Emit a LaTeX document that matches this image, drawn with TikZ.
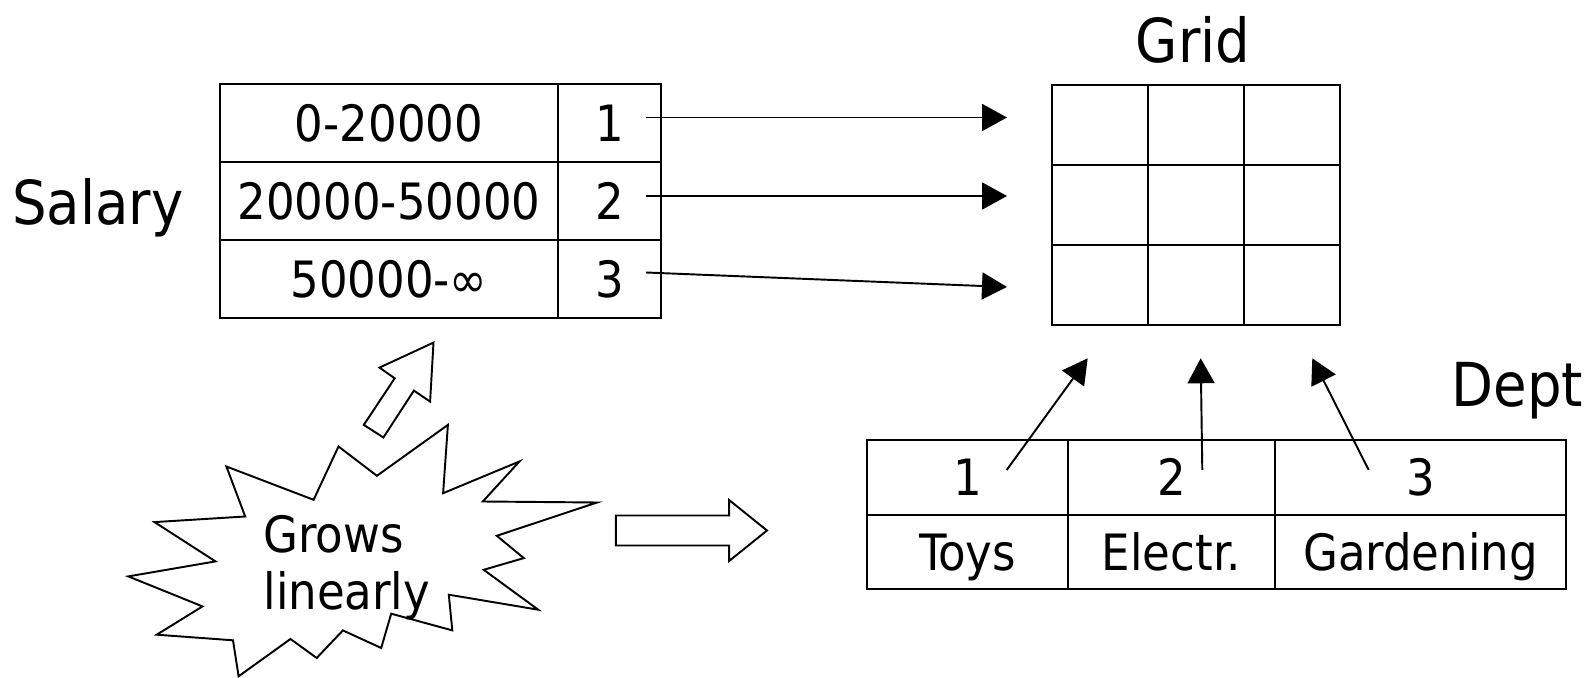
\documentclass[tikz,border=0pt]{standalone}
\usepackage{fontspec}
\setmainfont{DejaVu Sans Condensed}
\usetikzlibrary{arrows.meta}
\begin{document}
\begin{tikzpicture}[x=0.02cm, y=-0.02cm,
  every node/.style={inner sep=0pt, outer sep=0pt},
  lbl/.style={font=\fontsize{34.5}{41}\selectfont},
  txt/.style={font=\fontsize{28.5}{34}\selectfont},
  cell/.style={draw, line width=1.1pt, txt, text height=0.73cm, text depth=0pt, anchor=center},
  conn/.style={line width=1.1pt, -{Triangle[length=0.5cm, width=0.54cm]}},
  hollow/.style={draw, line width=1.1pt, line join=miter}
]
\useasboundingbox (0,0) rectangle (1590,678);

% labels
\node[lbl, anchor=base] (gridlbl) at (1193,63) {Grid};
\node[lbl, anchor=base] (deptlbl) at (1517.5,407) {Dept};
\node[lbl, anchor=base] (salarylbl) at (98,225) {Salary};

% salary table
\node[cell, minimum width=6.76cm, minimum height=1.56cm] (s1a) at (389,123) {0-20000};
\node[cell, minimum width=2.06cm, minimum height=1.56cm] (s1b) at (609.5,123) {1};
\node[cell, minimum width=6.76cm, minimum height=1.56cm] (s2a) at (389,201) {20000-50000};
\node[cell, minimum width=2.06cm, minimum height=1.56cm] (s2b) at (609.5,201) {2};
\node[cell, minimum width=6.76cm, minimum height=1.56cm] (s3a) at (389,279) {50000-∞};
\node[cell, minimum width=2.06cm, minimum height=1.56cm] (s3b) at (609.5,279) {3};

% grid
\foreach \r/\y in {1/125,2/205,3/285}{
  \foreach \c/\x in {1/1100,2/1196,3/1292}{
    \node[draw, line width=1.1pt, minimum width=1.92cm, minimum height=1.6cm] (g\r\c) at (\x,\y) {};
  }
}

% dept table
\node[cell, minimum width=4.02cm, minimum height=1.5cm] (d1n) at (967.5,477.5) {1};
\node[cell, minimum width=4.14cm, minimum height=1.5cm] (d2n) at (1171.5,477.5) {2};
\node[cell, minimum width=5.82cm, minimum height=1.5cm] (d3n) at (1420.5,477.5) {3};
\node[cell, minimum width=4.02cm, minimum height=1.48cm] (d1t) at (967.5,552) {Toys};
\node[cell, minimum width=4.14cm, minimum height=1.48cm] (d2t) at (1171.5,552) {Electr.};
\node[cell, minimum width=5.82cm, minimum height=1.48cm] (d3t) at (1420.5,552) {Gardening};

% connector end points
\coordinate (r1s) at (646,117.5);
\coordinate (r1e) at (1007,117.5);
\coordinate (r2s) at (646,196);
\coordinate (r2e) at (1007,196);
\coordinate (r3s) at (646,272.5);
\coordinate (r3e) at (1007,287);
\coordinate (c1s) at (1006.7,470);
\coordinate (c1e) at (1087.7,358.3);
\coordinate (c2s) at (1202.3,470);
\coordinate (c2e) at (1200.7,358.3);
\coordinate (c3s) at (1368.7,470);
\coordinate (c3e) at (1312.3,358.3);

\draw[conn] (r1s) -- (r1e);
\draw[conn] (r2s) -- (r2e);
\draw[conn] (r3s) -- (r3e);
\draw[conn] (c1s) -- (c1e);
\draw[conn] (c2s) -- (c2e);
\draw[conn] (c3s) -- (c3e);

% starburst
\draw[hollow] (226.4,466.5) -- (313.6,499.8) -- (338.5,446.5) -- (376.9,475.8)
  -- (447.9,424.9) -- (443.1,493.2) -- (519.4,461.5) -- (482.8,501.5)
  -- (597.0,502.5) -- (496.8,535.8) -- (523.8,558.1) -- (483.7,569.8)
  -- (538.2,609.7) -- (448.8,594.7) -- (452.3,630.4) -- (391.2,613.7)
  -- (381.2,648.0) -- (342.9,630.4) -- (316.7,658.0) -- (290.5,639.0)
  -- (238.6,676.3) -- (233.0,640.3) -- (156.7,634.7) -- (202.5,606.4)
  -- (128.3,576.4) -- (215.5,561.4) -- (154.5,522.1) -- (245.2,516.5) -- cycle;
\node[txt, anchor=base west] (grows) at (263.5,553) {Grows};
\node[txt, anchor=base west] (linearly) at (263.5,610) {linearly};

% hollow block arrows
\draw[hollow] (433.5,342.6) -- (430.1,401.6) -- (413.9,390.6) -- (383.4,437.5)
  -- (363.8,424.9) -- (394.7,378.3) -- (379.5,367.6) -- cycle;
\draw[hollow] (615.8,515.5) -- (729.1,515.5) -- (729.1,500) -- (767,530.5)
  -- (729.1,561) -- (729.1,545.5) -- (615.8,545.5) -- cycle;
\end{tikzpicture}
\end{document}
